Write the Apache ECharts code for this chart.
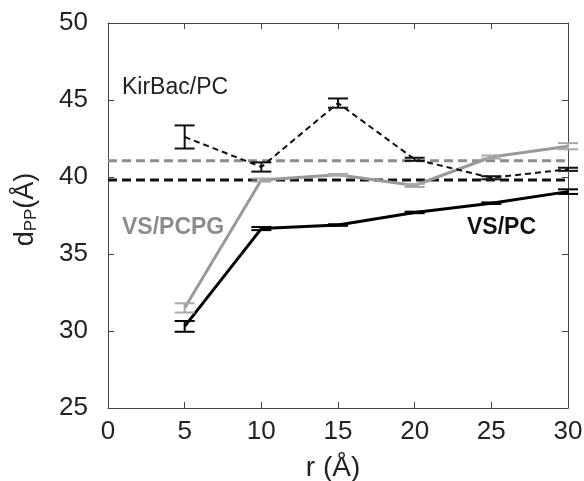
<!DOCTYPE html>
<html>
<head>
<meta charset="utf-8">
<script src="https://cdn.jsdelivr.net/npm/echarts@6/dist/echarts.min.js"></script>
<style>html,body{margin:0;padding:0;background:#fff}#c{width:584px;height:481px}</style>
</head>
<body>
<div id="c"></div>
<script>
var rValues = [5, 10, 15, 20, 25, 30];
var kirbacPC = [42.6, 40.65, 44.8, 41.15, 39.95, 40.5];
var kirbacPCErr = [0.75, 0.3, 0.3, 0.1, 0.1, 0.1];
var vsPCPG = [31.5, 39.8, 40.15, 39.45, 41.3, 42.0];
var vsPCPGErr = [0.3, 0.1, 0.05, 0.1, 0.1, 0.2];
var vsPC = [30.3, 36.65, 36.88, 37.7, 38.3, 39.05];
var vsPCErr = [0.35, 0.1, 0.05, 0.05, 0.05, 0.15];
var refPCPG = 41.06;
var refPC = 39.8;
var xTicks = [0, 5, 10, 15, 20, 25, 30];
var yTicks = [25, 30, 35, 40, 45, 50];

var FONT = '"Liberation Sans", Arial, sans-serif';

function pts(ys) { return rValues.map(function (r, i) { return [r, ys[i]]; }); }
function errData(ys, es) { return rValues.map(function (r, i) { return [r, ys[i] - es[i], ys[i] + es[i]]; }); }

function errSeries(ys, es, color) {
  return {
    type: 'custom',
    z: 5,
    data: errData(ys, es),
    renderItem: function (params, api) {
      var x = api.value(0);
      var lo = api.coord([x, api.value(1)]);
      var hi = api.coord([x, api.value(2)]);
      var hw = 10;
      var st = { stroke: color, lineWidth: 2 };
      return {
        type: 'group',
        children: [
          { type: 'line', shape: { x1: lo[0], y1: lo[1], x2: hi[0], y2: hi[1] }, style: st },
          { type: 'line', shape: { x1: lo[0] - hw, y1: lo[1], x2: lo[0] + hw, y2: lo[1] }, style: st },
          { type: 'line', shape: { x1: hi[0] - hw, y1: hi[1], x2: hi[0] + hw, y2: hi[1] }, style: st }
        ]
      };
    }
  };
}

var axisLineStyle = { color: '#444', width: 1 };
var chart = echarts.init(document.getElementById('c'));
chart.setOption({
  animation: false,
  grid: { left: 108, right: 16, top: 23, bottom: 73, containLabel: false, outerBoundsMode: 'none' },
  xAxis: [{
    type: 'value', min: xTicks[0], max: xTicks[xTicks.length - 1], interval: 5,
    name: 'r (Å)', nameLocation: 'middle', nameGap: 46,
    nameTextStyle: { fontSize: 28, color: '#222', fontFamily: FONT, padding: [0, 10, 0, 0] },
    axisLine: { show: true, onZero: false, lineStyle: axisLineStyle },
    axisTick: { show: true, inside: true, length: 6, lineStyle: axisLineStyle },
    axisLabel: { fontSize: 26, color: '#222', fontFamily: FONT, margin: 11 },
    splitLine: { show: false }
  }, {
    type: 'value', min: xTicks[0], max: xTicks[xTicks.length - 1], interval: 5, position: 'top',
    axisLine: { show: true, onZero: false, lineStyle: axisLineStyle },
    axisTick: { show: true, inside: true, length: 6, lineStyle: axisLineStyle },
    axisLabel: { show: false }, splitLine: { show: false }
  }],
  yAxis: [{
    type: 'value', min: yTicks[0], max: yTicks[yTicks.length - 1], interval: 5,
    name: '{a|d}{s|PP}{a|(Å)}', nameLocation: 'middle', nameGap: 68, nameRotate: 90,
    nameTextStyle: {
      color: '#222', fontFamily: FONT, padding: [0, 0, 0, 12],
      rich: {
        a: { fontSize: 27, color: '#222', fontFamily: FONT },
        s: { fontSize: 17, color: '#222', fontFamily: FONT, verticalAlign: 'bottom', padding: [12, 0, 0, 0] }
      }
    },
    axisLine: { show: true, onZero: false, lineStyle: axisLineStyle },
    axisTick: { show: true, inside: true, length: 6, lineStyle: axisLineStyle },
    axisLabel: { fontSize: 26, color: '#222', fontFamily: FONT, margin: 20 },
    splitLine: { show: false }
  }, {
    type: 'value', min: yTicks[0], max: yTicks[yTicks.length - 1], interval: 5, position: 'right',
    axisLine: { show: true, onZero: false, lineStyle: axisLineStyle },
    axisTick: { show: true, inside: true, length: 6, lineStyle: axisLineStyle },
    axisLabel: { show: false }, splitLine: { show: false }
  }],
  series: [
    { type: 'line', data: [[xTicks[0], refPCPG], [xTicks[xTicks.length - 1], refPCPG]], showSymbol: false,
      lineStyle: { color: '#8c8c8c', width: 3, type: [9, 5] }, z: 2 },
    { type: 'line', data: [[xTicks[0], refPC], [xTicks[xTicks.length - 1], refPC]], showSymbol: false,
      lineStyle: { color: '#111', width: 3, type: [9, 5] }, z: 2 },
    { type: 'line', data: pts(vsPCPG), showSymbol: false,
      lineStyle: { color: '#999', width: 3 }, z: 3 },
    { type: 'line', data: pts(vsPC), showSymbol: false,
      lineStyle: { color: '#000', width: 3 }, z: 3 },
    { type: 'line', data: pts(kirbacPC), showSymbol: false,
      lineStyle: { color: '#111', width: 2, type: [6, 4] }, z: 4 },
    errSeries(vsPCPG, vsPCPGErr, '#aaa'),
    errSeries(vsPC, vsPCErr, '#000'),
    errSeries(kirbacPC, kirbacPCErr, '#111')
  ],
  graphic: [
    { type: 'text', left: 122, top: 76, style: { text: 'KirBac/PC', fontSize: 23, fill: '#222', fontFamily: FONT } },
    { type: 'text', left: 122, top: 216, style: { text: 'VS/PCPG', fontSize: 23, fontWeight: 'bold', fill: '#8c8c8c', fontFamily: FONT } },
    { type: 'text', left: 467, top: 216, style: { text: 'VS/PC', fontSize: 23, fontWeight: 'bold', fill: '#111', fontFamily: FONT } }
  ]
});
</script>
</body>
</html>
